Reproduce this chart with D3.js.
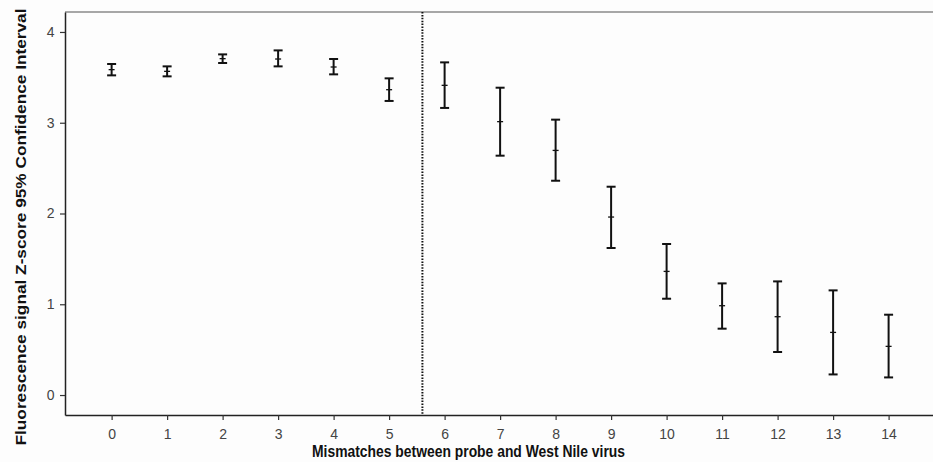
<!DOCTYPE html>
<html>
<head>
<meta charset="utf-8">
<script src="https://cdn.jsdelivr.net/npm/d3@7"></script>
<style>
  body { margin: 0; background: #fff; }
  svg { display: block; font-family: "Liberation Sans", Arial, sans-serif; }
</style>
</head>
<body>
<svg id="chart" width="933" height="462"></svg>
<script>
// error bar chart - z-score CI by number of mismatches

const mismatches = [0, 1, 2, 3, 4, 5, 6, 7, 8, 9, 10, 11, 12, 13, 14];
const meanZ  = [3.585, 3.566, 3.706, 3.702, 3.614, 3.364, 3.412, 3.012, 2.695, 1.961, 1.362, 0.984, 0.863, 0.690, 0.536];
const lowerZ = [3.522, 3.511, 3.658, 3.621, 3.533, 3.240, 3.163, 2.637, 2.361, 1.620, 1.061, 0.731, 0.474, 0.227, 0.194];
const upperZ = [3.647, 3.621, 3.753, 3.797, 3.702, 3.489, 3.665, 3.386, 3.034, 2.295, 1.664, 1.230, 1.252, 1.153, 0.885];
const yTicks = [0, 1, 2, 3, 4];
const cutoff = 5.6;

const svg = d3.select('#chart');
const plotL = 65, plotT = 12, plotR = 933, plotB = 415;

const x = d3.scaleLinear().domain([-0.84, 14.8]).range([plotL, plotR]);
const y = d3.scaleLinear().domain([-0.22, 4.22]).range([plotB, plotT]);

svg.append('rect').attr('width', 933).attr('height', 462).attr('fill', '#fdfdfd');

// top frame line
svg.append('line')
    .attr('x1', plotL).attr('x2', plotR)
    .attr('y1', plotT).attr('y2', plotT)
    .attr('stroke', '#8a8a8a').attr('stroke-width', 1.5);

// axes
const yAxis = svg.append('g')
    .attr('transform', `translate(${plotL},0)`)
    .call(d3.axisLeft(y).tickValues(yTicks).tickFormat(d3.format('d'))
        .tickSize(5).tickSizeOuter(0).tickPadding(5.5));
const xAxis = svg.append('g')
    .attr('transform', `translate(0,${plotB})`)
    .call(d3.axisBottom(x).tickValues(mismatches).tickFormat(d3.format('d'))
        .tickSize(5).tickSizeOuter(0).tickPadding(9));

[yAxis, xAxis].forEach(g => {
    g.select('.domain').attr('stroke', '#222').attr('stroke-width', 1.5);
    g.selectAll('.tick line').attr('stroke', '#333').attr('stroke-width', 1.2);
    g.selectAll('.tick text')
        .attr('fill', '#444')
        .style('font-family', '"Liberation Sans", Arial, sans-serif')
        .style('font-size', '14px');
});

// cutoff dotted line
svg.append('line')
    .attr('x1', x(cutoff)).attr('x2', x(cutoff))
    .attr('y1', plotT).attr('y2', plotB)
    .attr('stroke', '#111').attr('stroke-width', 2)
    .attr('stroke-dasharray', '1.5,1.4');

// error bars
const rows = mismatches.map((m, i) => ({ m, mean: meanZ[i], lo: lowerZ[i], hi: upperZ[i] }));
const bars = svg.append('g').selectAll('g').data(rows).enter().append('g')
    .attr('stroke', '#111');

bars.append('line')
    .attr('x1', d => x(d.m)).attr('x2', d => x(d.m))
    .attr('y1', d => y(d.hi)).attr('y2', d => y(d.lo))
    .attr('stroke-width', 2);
bars.append('line')
    .attr('x1', d => x(d.m) - 4.5).attr('x2', d => x(d.m) + 4.5)
    .attr('y1', d => y(d.hi)).attr('y2', d => y(d.hi))
    .attr('stroke-width', 2);
bars.append('line')
    .attr('x1', d => x(d.m) - 4.5).attr('x2', d => x(d.m) + 4.5)
    .attr('y1', d => y(d.lo)).attr('y2', d => y(d.lo))
    .attr('stroke-width', 2);
bars.append('line')
    .attr('x1', d => x(d.m) - 3).attr('x2', d => x(d.m) + 3)
    .attr('y1', d => y(d.mean)).attr('y2', d => y(d.mean))
    .attr('stroke-width', 1.3);

// axis titles (the source image is squeezed horizontally, so stretch to fit)
svg.append('text')
    .attr('transform', 'translate(26,227) scale(0.85,1) rotate(-90)')
    .attr('text-anchor', 'middle')
    .attr('font-weight', 'bold')
    .attr('font-size', 17.3)
    .attr('fill', '#111')
    .attr('textLength', 437)
    .attr('lengthAdjust', 'spacingAndGlyphs')
    .text('Fluorescence signal Z-score 95% Confidence Interval');

svg.append('text')
    .attr('x', 468.5).attr('y', 457)
    .attr('text-anchor', 'middle')
    .attr('font-weight', 'bold')
    .attr('font-size', 17)
    .attr('fill', '#111')
    .attr('textLength', 313)
    .attr('lengthAdjust', 'spacingAndGlyphs')
    .text('Mismatches between probe and West Nile virus');
</script>
</body>
</html>
